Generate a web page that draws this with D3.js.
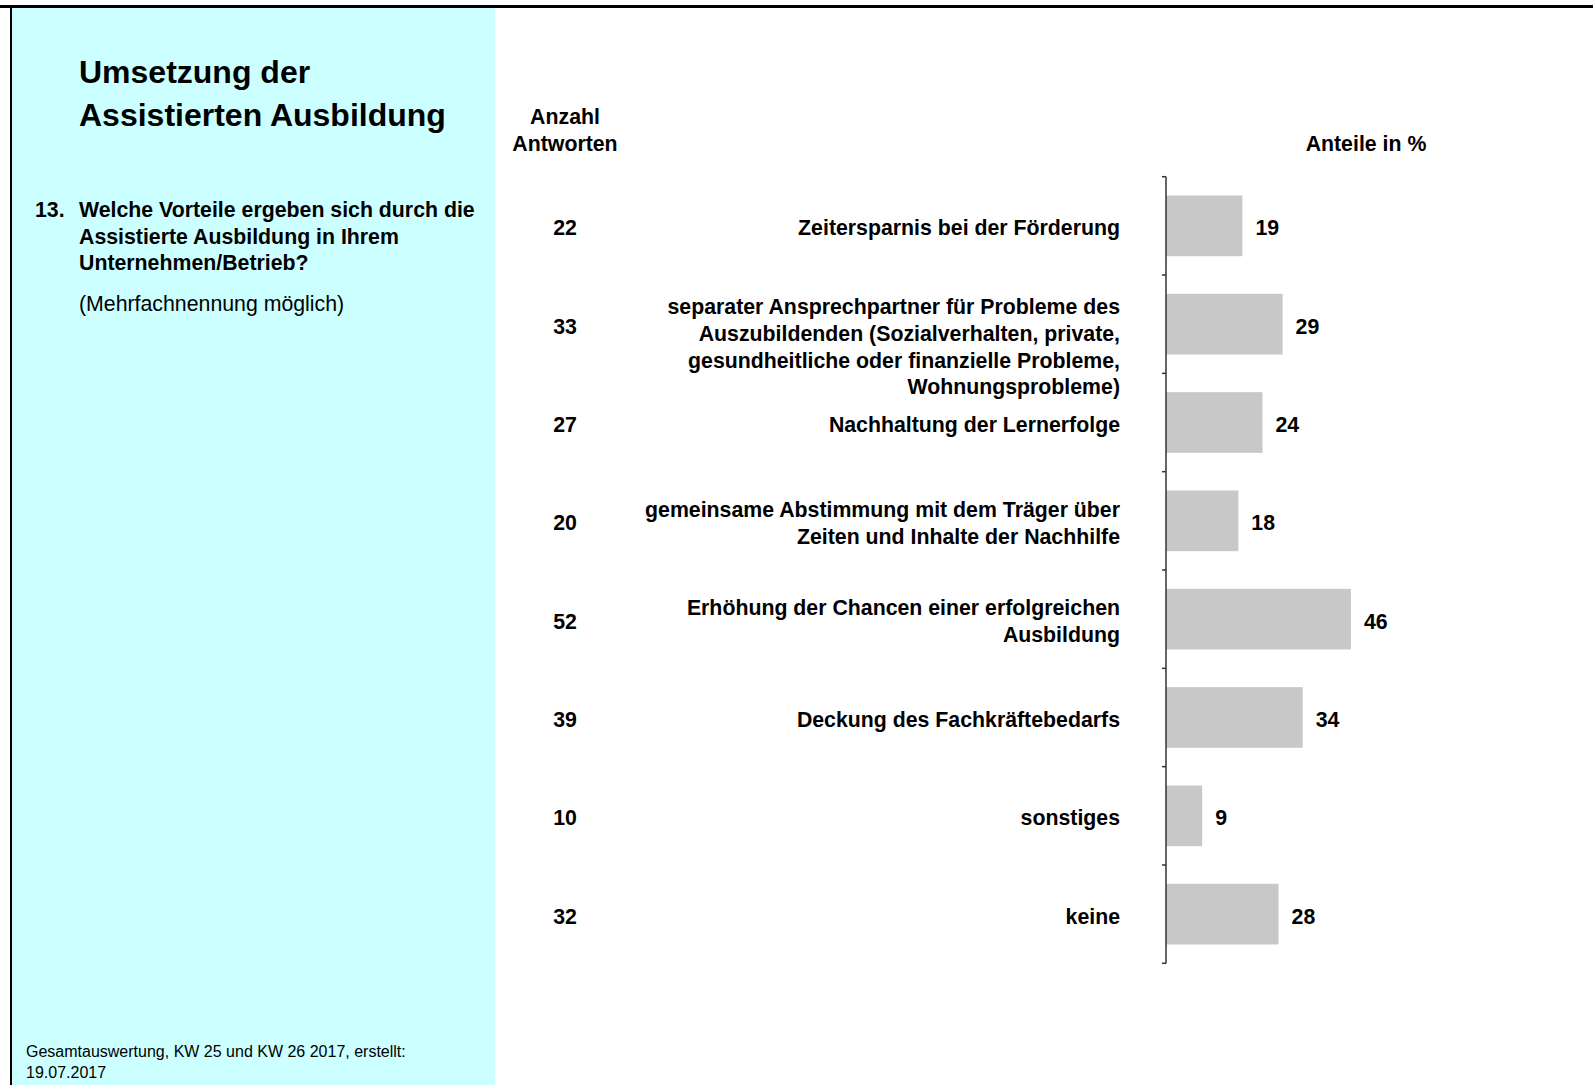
<!DOCTYPE html>
<html>
<head>
<meta charset="utf-8">
<script src="https://cdn.jsdelivr.net/npm/d3@7"></script>
<style>
  html, body { margin: 0; padding: 0; background: #fff; }
  svg { display: block; font-family: "Liberation Sans", Arial, sans-serif; }
</style>
</head>
<body>
<svg width="1593" height="1085"></svg>
<script>
// chart data
const categories = [
    ['Zeitersparnis bei der Förderung'],
    ['separater Ansprechpartner für Probleme des', 'Auszubildenden (Sozialverhalten, private,', 'gesundheitliche oder finanzielle Probleme,', 'Wohnungsprobleme)'],
    ['Nachhaltung der Lernerfolge'],
    ['gemeinsame Abstimmung mit dem Träger über', 'Zeiten und Inhalte der Nachhilfe'],
    ['Erhöhung der Chancen einer erfolgreichen', 'Ausbildung'],
    ['Deckung des Fachkräftebedarfs'],
    ['sonstiges'],
    ['keine']
];
const counts = [22, 33, 27, 20, 52, 39, 10, 32];
const shares = [19, 29, 24, 18, 46, 34, 9, 28];

const titleLines = ['Umsetzung der', 'Assistierten Ausbildung'];
const questionNo = '13.';
const questionLines = ['Welche Vorteile ergeben sich durch die', 'Assistierte Ausbildung in Ihrem', 'Unternehmen/Betrieb?'];
const questionNote = '(Mehrfachnennung möglich)';
const footerLines = ['Gesamtauswertung, KW 25 und KW 26 2017, erstellt:', '19.07.2017'];

const $svg = d3.select('svg');
const fs = 21.3; // 16pt
const lh = 26.7;

// left info panel + frame
$svg.append('rect').attr('x', 12).attr('y', 8).attr('width', 483).attr('height', 1085 - 8).attr('fill', '#ccffff');
$svg.append('line').attr('x1', 0).attr('x2', 1593).attr('y1', 6.5).attr('y2', 6.5).attr('stroke', '#000').attr('stroke-width', 3);
$svg.append('line').attr('x1', 11).attr('x2', 11).attr('y1', 5).attr('y2', 1085).attr('stroke', '#000').attr('stroke-width', 2);

const $title = $svg.append('text').attr('font-size', 32).attr('font-weight', 'bold');
titleLines.forEach((t, i) => $title.append('tspan').attr('x', 79).attr('y', 83 + i * 43).text(t));

$svg.append('text').attr('x', 35).attr('y', 217).attr('font-size', fs).attr('font-weight', 'bold').text(questionNo);
const $q = $svg.append('text').attr('font-size', fs).attr('font-weight', 'bold');
questionLines.forEach((t, i) => $q.append('tspan').attr('x', 79).attr('y', 217 + i * lh).text(t));
$svg.append('text').attr('x', 79).attr('y', 311).attr('font-size', fs).text(questionNote);

const $foot = $svg.append('text').attr('font-size', 16);
footerLines.forEach((t, i) => $foot.append('tspan').attr('x', 26).attr('y', 1057 + i * 21).text(t));

// column headers
const countX = 565;
const $h1 = $svg.append('text').attr('font-size', fs).attr('font-weight', 'bold').attr('text-anchor', 'middle');
['Anzahl', 'Antworten'].forEach((t, i) => $h1.append('tspan').attr('x', countX).attr('y', 124 + i * lh).text(t));
$svg.append('text').attr('x', 1366).attr('y', 150.5).attr('font-size', fs).attr('font-weight', 'bold')
    .attr('text-anchor', 'middle').text('Anteile in %');

// scales
const keys = d3.range(categories.length);
const yTop = 176.7, yBottom = 963.3;
const yGrid = d3.scaleBand().domain(keys).range([yTop, yBottom]);
const y = d3.scaleBand().domain(keys).range([yTop, yBottom]).paddingInner(0.383).paddingOuter(0.1915);
const x = d3.scaleLinear().domain([0, 100]).range([1166, 1166 + 402]);

// bars
$svg.append('g').selectAll('rect').data(keys).join('rect')
    .attr('x', x(0))
    .attr('y', (i) => y(i))
    .attr('width', (i) => x(shares[i]) - x(0))
    .attr('height', y.bandwidth())
    .attr('fill', '#c8c8c8');

// axis
const $axis = $svg.append('g').attr('stroke', '#333').attr('stroke-width', 1.5);
$axis.append('line').attr('x1', x(0)).attr('x2', x(0)).attr('y1', yTop).attr('y2', yBottom);
$axis.selectAll('line.tick').data(keys.map((i) => yGrid(i)).concat([yBottom])).join('line')
    .attr('class', 'tick')
    .attr('x1', x(0) - 4).attr('x2', x(0))
    .attr('y1', (d) => d).attr('y2', (d) => d);

const mid = (i) => y(i) + y.bandwidth() / 2;
const base = 9.5; // baseline offset from band centre

// value labels
$svg.append('g').selectAll('text').data(keys).join('text')
    .attr('x', (i) => x(shares[i]) + 13)
    .attr('y', (i) => mid(i) + base)
    .attr('font-size', fs).attr('font-weight', 'bold')
    .text((i) => shares[i]);

// counts
$svg.append('g').selectAll('text').data(keys).join('text')
    .attr('x', countX)
    .attr('y', (i) => mid(i) + base)
    .attr('font-size', fs).attr('font-weight', 'bold').attr('text-anchor', 'middle')
    .text((i) => counts[i]);

// category labels (wrapped, right aligned)
$svg.append('g').selectAll('text').data(keys).join('text')
    .attr('font-size', fs).attr('font-weight', 'bold').attr('text-anchor', 'end')
    .each(function (i) {
        const lines = categories[i];
        const off = Math.min((lines.length - 1) / 2, 0.73) * lh;
        d3.select(this).selectAll('tspan').data(lines).join('tspan')
            .attr('x', 1120)
            .attr('y', (t, k) => mid(i) - off + k * lh + base)
            .text((t) => t);
    });
</script>
</body>
</html>
